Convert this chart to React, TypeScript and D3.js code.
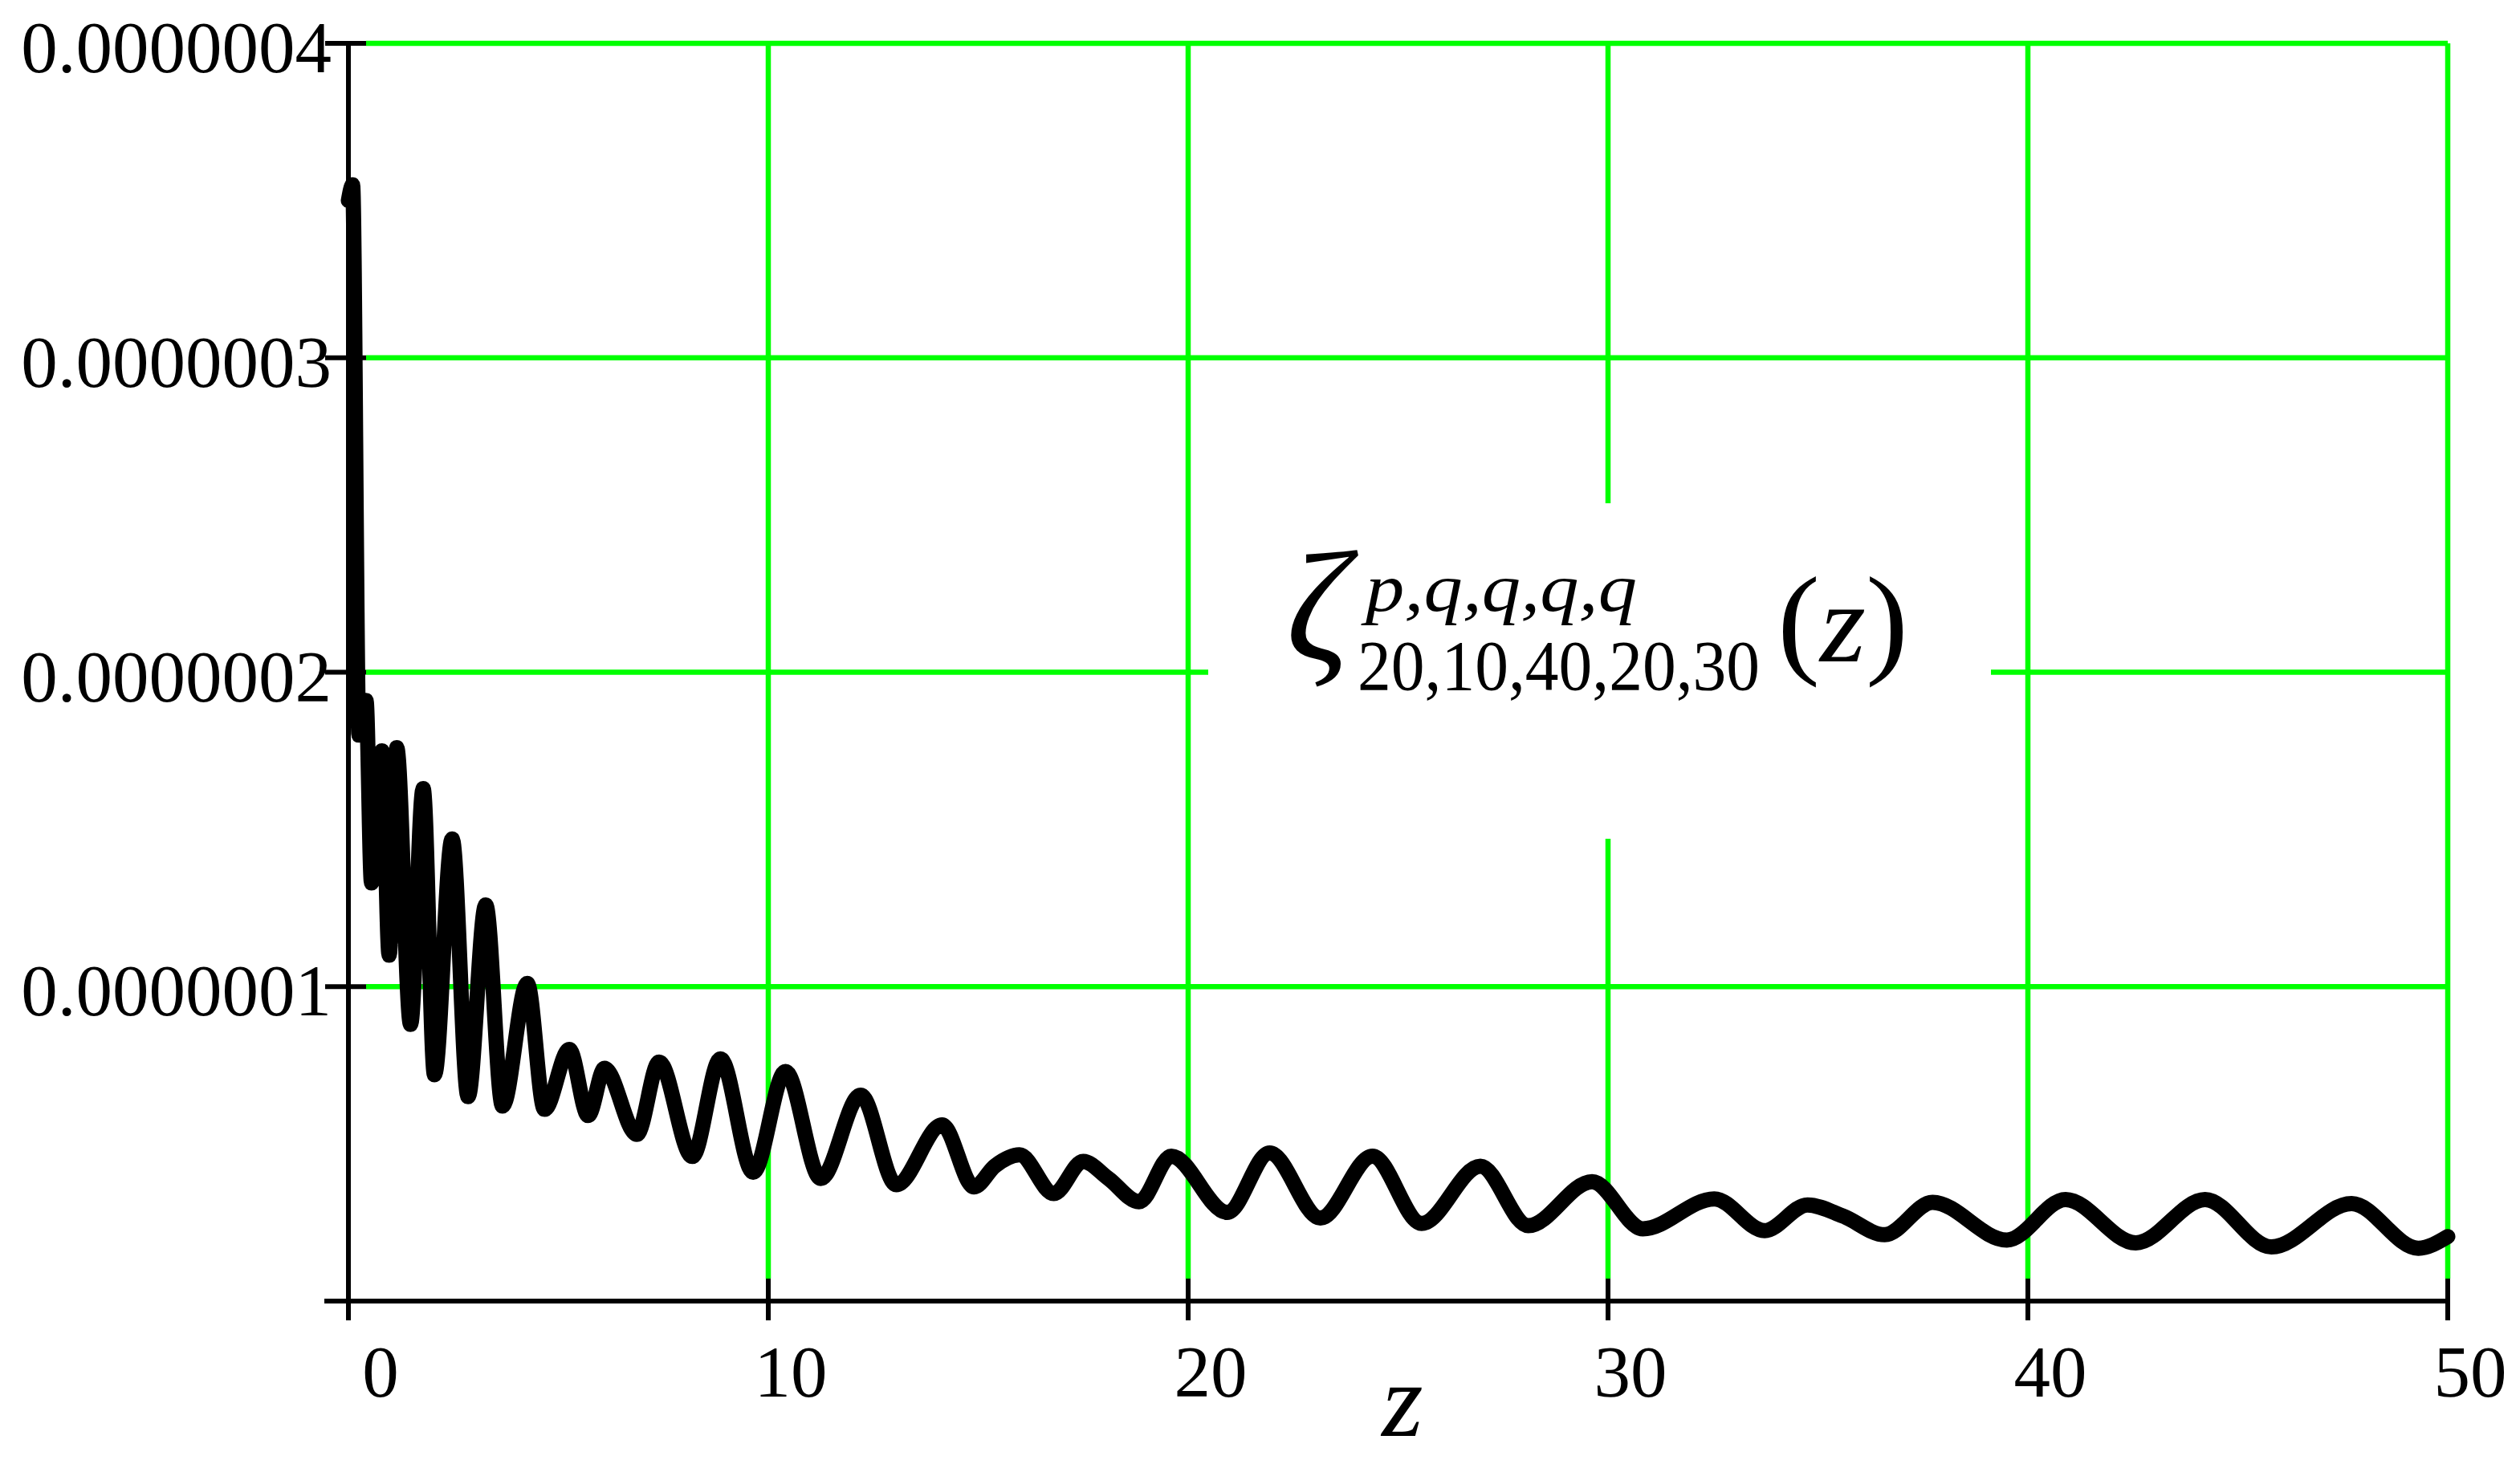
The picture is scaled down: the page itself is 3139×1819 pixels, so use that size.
import * as d3 from 'd3'

// values (local maxima / minima of the curve)
const zPoints = [
  0, 0.1, 0.25, 0.42, 0.55, 0.8, 0.97, 1.15, 1.48, 1.78, 2.05, 2.47, 2.85, 3.27, 3.67, 4.26, 4.67, 5.26, 5.71,
  6.1, 6.87, 7.4, 8.19, 8.86, 9.64, 10.41, 11.25, 12.2, 13.05, 14.14, 14.9, 15.4, 15.98, 16.8, 17.5, 18.1, 18.83,
  19.6, 20.93, 21.94, 23.15, 24.39, 25.56, 26.96, 28.1, 29.62, 30.83, 32.53, 33.73, 34.75, 35.6, 36.59, 37.73,
  39.5, 40.9, 42.57, 44.22, 45.8, 47.71, 49.3, 50,
]
const zetaValues = [
  3.5e-7, 3.55e-7, 1.8e-7, 1.91e-7, 1.33e-7, 1.75e-7, 1.1e-7, 1.76e-7, 0.88e-7, 1.63e-7, 0.72e-7, 1.47e-7,
  0.65e-7, 1.26e-7, 0.62e-7, 1.01e-7, 0.61e-7, 0.8e-7, 0.59e-7, 0.74e-7, 0.53e-7, 0.76e-7, 0.46e-7, 0.77e-7,
  0.41e-7, 0.73e-7, 0.39e-7, 0.655e-7, 0.37e-7, 0.56e-7, 0.363e-7, 0.43e-7, 0.465e-7, 0.342e-7, 0.444e-7,
  0.39e-7, 0.316e-7, 0.461e-7, 0.282e-7, 0.471e-7, 0.264e-7, 0.461e-7, 0.247e-7, 0.429e-7, 0.24e-7, 0.38e-7,
  0.23e-7, 0.325e-7, 0.224e-7, 0.306e-7, 0.27e-7, 0.211e-7, 0.314e-7, 0.194e-7, 0.323e-7, 0.185e-7, 0.323e-7,
  0.172e-7, 0.31e-7, 0.168e-7, 0.205e-7,
]
const xTicks = [0, 10, 20, 30, 40, 50]
const yTicks = [1e-7, 2e-7, 3e-7, 4e-7]
const yTickLabels = ['0.0000001', '0.0000002', '0.0000003', '0.0000004']

const W = 3139
const H = 1819
const FONT = 'Liberation Serif, Times New Roman, serif'
const GREEN = '#00ff00'

export default function App() {
  const x = d3.scaleLinear().domain([0, 50]).range([434, 3049])
  const y = d3.scaleLinear().domain([0, 4e-7]).range([1621, 54])

  const data = zPoints.map((z, i) => ({ z, v: zetaValues[i] }))
  const line = d3
    .line<{ z: number; v: number }>()
    .x((d) => x(d.z))
    .y((d) => y(d.v))
    .curve(d3.curveMonotoneX)

  const x0 = x(0)
  const y0 = y(0)
  const txt = { fontFamily: FONT, fill: '#000' }

  return (
    <svg width={W} height={H} style={{ position: 'absolute', left: 0, top: 0, background: '#fff' }}>
      <rect width={W} height={H} fill="#fff" />

      {/* gridlines */}
      {yTicks.map((t) => (
        <line key={'gy' + t} x1={x0 + 22} x2={x(50)} y1={y(t)} y2={y(t)} stroke={GREEN} strokeWidth={6.5} />
      ))}
      {xTicks.slice(1).map((t) => (
        <line key={'gx' + t} x1={x(t)} x2={x(t)} y1={y(4e-7)} y2={y0 - 28} stroke={GREEN} strokeWidth={6.5} />
      ))}

      {/* legend background */}
      <rect x={1505} y={627} width={975} height={418} fill="#fff" />

      {/* curve */}
      <path d={line(data) ?? ''} fill="none" stroke="#000" strokeWidth={19} strokeLinejoin="round" strokeLinecap="round" />

      {/* axes */}
      <line x1={x0} x2={x0} y1={y(4e-7)} y2={y0 + 24} stroke="#000" strokeWidth={6} />
      <line x1={x0 - 30} x2={x(50)} y1={y0} y2={y0} stroke="#000" strokeWidth={6} />
      {yTicks.map((t) => (
        <line key={'ty' + t} x1={x0 - 29} x2={x0 + 22} y1={y(t)} y2={y(t)} stroke="#000" strokeWidth={6} />
      ))}
      {xTicks.map((t) => (
        <line key={'tx' + t} x1={x(t)} x2={x(t)} y1={y0 - 28} y2={y0 + 24} stroke="#000" strokeWidth={6} />
      ))}

      {/* tick labels */}
      {yTicks.map((t, i) => (
        <text key={'ly' + t} x={413} y={y(t) + 36} fontSize={91} textAnchor="end" style={txt}>
          {yTickLabels[i]}
        </text>
      ))}
      {xTicks.map((t, i) => (
        <text key={'lx' + t} x={x(t) + (i === 0 ? 40 : 28)} y={1740} fontSize={91} textAnchor="middle" style={txt}>
          {t}
        </text>
      ))}

      {/* axis title */}
      <text x={1747} y={1789} fontSize={132} fontStyle="italic" textAnchor="middle" style={txt}>
        z
      </text>

      {/* legend */}
      <text x={1602} y={822} fontSize={195} fontStyle="italic" style={txt}>
        ζ
      </text>
      <text x={1701} y={761} fontSize={84} fontStyle="italic" textLength={338} lengthAdjust="spacingAndGlyphs" style={txt}>
        p,q,q,q,q
      </text>
      <text x={1691} y={859} fontSize={88} textLength={501} lengthAdjust="spacingAndGlyphs" style={txt}>
        20,10,40,20,30
      </text>
      <text x={2214} y={824} fontSize={152} textLength={163} lengthAdjust="spacingAndGlyphs" style={txt}>
        (<tspan fontStyle="italic" fontSize={140}>z</tspan>)
      </text>
    </svg>
  )
}
